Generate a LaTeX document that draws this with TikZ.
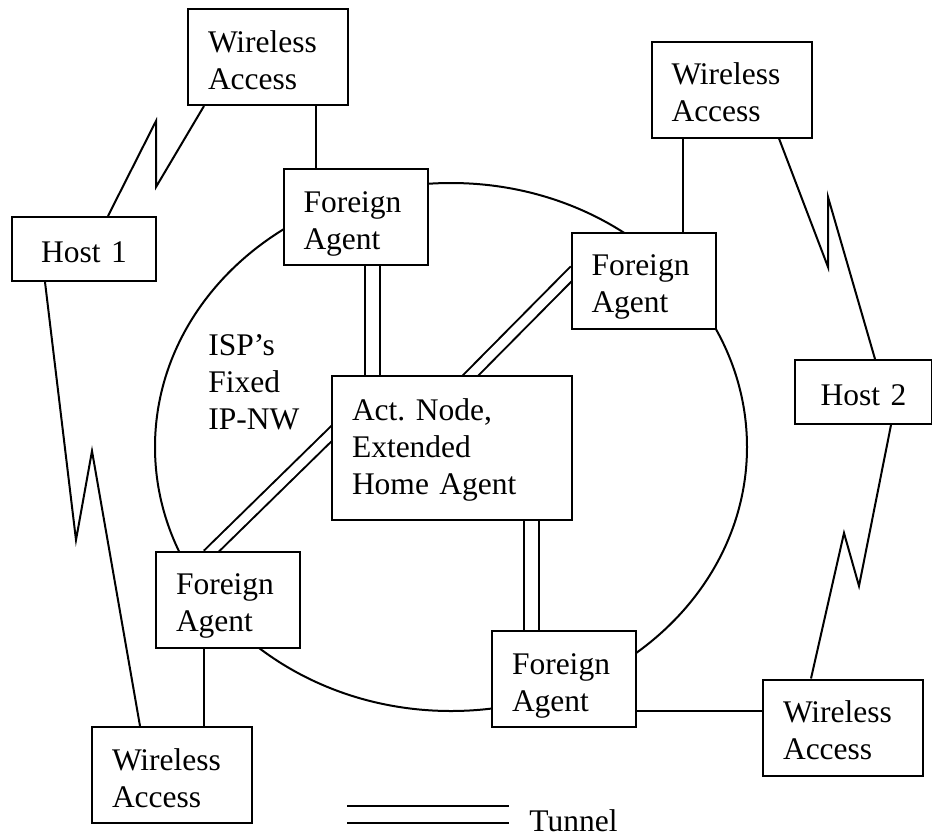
\documentclass[tikz,border=0pt]{standalone}
\usepackage{fontspec}
\setmainfont{Liberation Serif}
\usetikzlibrary{backgrounds}

\tikzset{
  nwbox/.style={draw, fill=white, line width=1pt, inner xsep=10pt, inner ysep=0pt, align=left, font=\fontsize{15.75}{18.5}\selectfont},
  wabox/.style={nwbox, text width=60pt, minimum height=48pt, text height=12pt, text depth=17pt},
  fabox/.style={nwbox, text width=52pt, minimum height=48pt, text height=12pt, text depth=17pt},
  hostbox/.style={nwbox, align=center, minimum height=32pt, text height=13pt, text depth=0pt},
  actbox/.style={nwbox, text width=100pt, minimum height=72pt, text height=12pt, text depth=40pt},
  nwlabel/.style={inner sep=0pt, align=left, font=\fontsize{15.75}{18.5}\selectfont},
  nwlink/.style={line width=1pt},
  nwtunnel/.style={line width=1pt, double, double distance=6.25pt, shorten <=-3pt, shorten >=-3pt}
}

\begin{document}
\begin{tikzpicture}[x=0.5pt, y=-0.5pt]
\useasboundingbox (0,0) rectangle (932,836);
\draw[nwlink] (451,447) ellipse [x radius=148pt, y radius=132pt];

\node[wabox] (wa1) at (268,57) {Wireless\\Access};
\node[hostbox, text width=52pt] (host1) at (84,249) {Host 1};
\node[fabox] (fa1) at (355.5,217) {Foreign\\Agent};

\node[wabox] (wa2) at (731.5,89.5) {Wireless\\Access};
\node[fabox] (fa2) at (643.5,280.5) {Foreign\\Agent};
\node[hostbox, text width=48.5pt] (host2) at (863.5,392) {Host 2};

\node[actbox] (act) at (452,448) {Act.\ Node,\\Extended\\Home Agent};
\node[nwlabel, anchor=base west, text width=50pt] (isp) at (208,355) {ISP’s\\Fixed\\IP-NW};

\node[fabox] (fa3) at (228,599.5) {Foreign\\Agent};
\node[wabox] (wa3) at (172,775) {Wireless\\Access};
\node[fabox] (fa4) at (564,679) {Foreign\\Agent};
\node[wabox] (wa4) at (843,727.5) {Wireless\\Access};

\coordinate (z1a) at (156,187);
\coordinate (z1b) at (156,121);
\coordinate (z2a) at (828,267);
\coordinate (z2b) at (828,197);
\coordinate (z3a) at (76,540);
\coordinate (z3b) at (92,451);
\coordinate (z4a) at (859,586);
\coordinate (z4b) at (844,533);

\coordinate (legl) at (347,814.5);
\coordinate (legr) at (509,814.5);
\node[nwlabel, anchor=base west] (tunnel) at (529,831) {Tunnel};

\begin{pgfonlayer}{background}
\draw[nwlink] ([xshift=-32pt]wa1.south) -- (z1a) -- (z1b) -- ([xshift=12pt]host1.north);
\draw[nwlink] ([xshift=23.75pt]wa2.south) -- (z2a) -- (z2b) -- ([xshift=5.75pt]host2.north);
\draw[nwlink] ([xshift=-19.5pt]host1.south) -- (z3a) -- (z3b) -- ([xshift=-16pt]wa3.north);
\draw[nwlink] ([xshift=13.75pt]host2.south) -- (z4a) -- (z4b) -- ([xshift=-16pt]wa4.north);

\draw[nwlink] ([xshift=24pt]wa1.south) -- ([xshift=24pt]wa1.south |- fa1.north);
\draw[nwlink] ([xshift=19.75pt]fa2.north) -- ([xshift=19.75pt]fa2.north |- wa2.south);
\draw[nwlink] ([xshift=-12pt]fa3.south) -- ([xshift=-12pt]fa3.south |- wa3.north);
\draw[nwlink] ([yshift=-16pt]fa4.east) -- ([yshift=-16pt]fa4.east -| wa4.west);

\draw[nwtunnel] ([xshift=8.5pt]fa1.south) -- ([xshift=8.5pt]fa1.south |- act.north);
\draw[nwtunnel] ([xshift=-16.25pt]fa4.north) -- ([xshift=-16.25pt]fa4.north |- act.south);
\draw[nwtunnel, double distance=4.5pt] ([yshift=3pt]fa2.west) -- ([xshift=9.5pt]act.north);
\draw[nwtunnel, double distance=4.5pt] ([yshift=7pt]act.west) -- ([xshift=-8pt]fa3.north);
\draw[nwtunnel, double distance=7.5pt, shorten <=0pt, shorten >=0pt] (legl) -- (legr);
\end{pgfonlayer}
\end{tikzpicture}
\end{document}
